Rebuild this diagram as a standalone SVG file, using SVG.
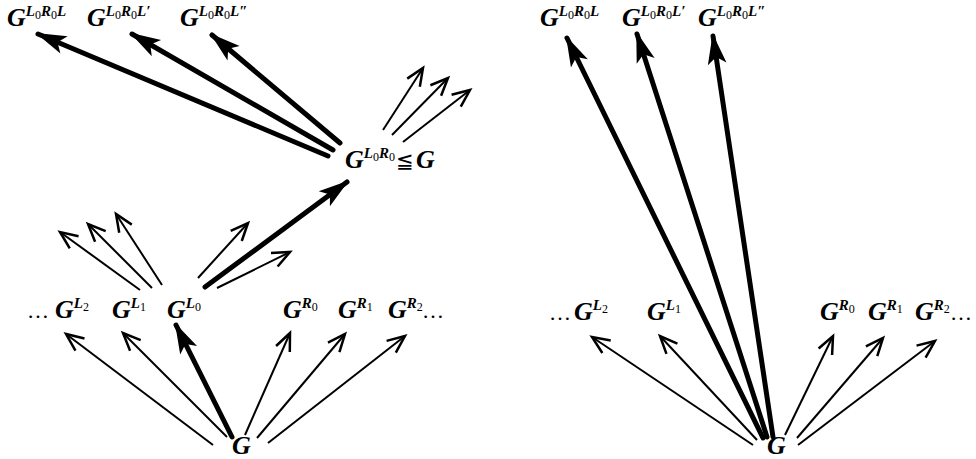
<svg xmlns="http://www.w3.org/2000/svg" width="976" height="459" viewBox="0 0 976 459">
<style>
.g{font-family:"Liberation Serif","DejaVu Serif",serif;font-style:italic;font-weight:bold;font-size:26px;fill:#000}
.sp{font-size:15px}
.sb{font-size:12px;font-style:normal;font-weight:normal}
.dots{font-family:"Liberation Serif",serif;font-size:22px;fill:#000}
.rel{font-style:normal;font-weight:normal;font-family:"DejaVu Serif",serif;font-size:21px}
.t{stroke:#000;stroke-width:2;fill:none;marker-end:url(#open)}
.b{stroke:#000;stroke-width:5;fill:none;stroke-linecap:round;marker-end:url(#bold)}
</style>
<defs>
<marker id="open" markerUnits="userSpaceOnUse" markerWidth="30" markerHeight="30" viewBox="-20 -10 24 20" refX="0" refY="0" orient="auto" overflow="visible">
<path d="M -14 -6 L 0 0 L -14 6" stroke="#000" stroke-width="2" fill="none" stroke-linejoin="miter"/>
</marker>
<marker id="bold" markerUnits="userSpaceOnUse" markerWidth="40" markerHeight="30" viewBox="-30 -12 34 24" refX="0" refY="0" orient="auto" overflow="visible">
<path d="M 2 0 L -24 -8 L -18 0 L -24 8 Z" fill="#000"/>
</marker>
</defs>

<g id="connectors">
<line class="t" x1="213" y1="445" x2="66" y2="334"/>
<line class="t" x1="227" y1="437" x2="123" y2="333"/>
<line class="b" x1="232" y1="437" x2="176" y2="325"/>
<line class="t" x1="245" y1="435" x2="290" y2="333"/>
<line class="t" x1="257" y1="438" x2="345" y2="334"/>
<line class="t" x1="268" y1="443" x2="405" y2="336"/>
<line class="t" x1="140" y1="290" x2="60" y2="232"/>
<line class="t" x1="152" y1="288" x2="88" y2="224"/>
<line class="t" x1="162" y1="285" x2="116" y2="214"/>
<line class="t" x1="198" y1="278" x2="248" y2="223"/>
<line class="b" x1="205" y1="287" x2="347" y2="182"/>
<line class="t" x1="217" y1="288" x2="290" y2="252"/>
<line class="b" x1="328" y1="156" x2="38" y2="34"/>
<line class="b" x1="333" y1="150" x2="132" y2="34"/>
<line class="b" x1="340" y1="143" x2="212" y2="35"/>
<line class="t" x1="383" y1="130" x2="423" y2="68"/>
<line class="t" x1="392" y1="135" x2="448" y2="78"/>
<line class="t" x1="403" y1="142" x2="470" y2="90"/>
<line class="t" x1="753" y1="445" x2="592" y2="337"/>
<line class="t" x1="757" y1="440" x2="660" y2="336"/>
<line class="b" x1="763" y1="438" x2="567" y2="38"/>
<line class="b" x1="767" y1="437" x2="637" y2="34"/>
<line class="b" x1="773" y1="437" x2="713" y2="36"/>
<line class="t" x1="785" y1="435" x2="833" y2="336"/>
<line class="t" x1="797" y1="438" x2="883" y2="338"/>
<line class="t" x1="798" y1="445" x2="935" y2="341"/>
</g>

<g id="lG"><text class="g" x="232" y="454">G</text></g>
<g id="lL2"><text class="dots" x="27" y="318">…</text><text class="g" x="55" y="318">G<tspan class="sp" dy="-10">L</tspan><tspan class="sb" dy="3">2</tspan></text></g>
<g id="lL1"><text class="g" x="112" y="318">G<tspan class="sp" dy="-10">L</tspan><tspan class="sb" dy="3">1</tspan></text></g>
<g id="lL0"><text class="g" x="167" y="318">G<tspan class="sp" dy="-10">L</tspan><tspan class="sb" dy="3">0</tspan></text></g>
<g id="lR0"><text class="g" x="283" y="318">G<tspan class="sp" dy="-10">R</tspan><tspan class="sb" dy="3">0</tspan></text></g>
<g id="lR1"><text class="g" x="338" y="318">G<tspan class="sp" dy="-10">R</tspan><tspan class="sb" dy="3">1</tspan></text></g>
<g id="lR2"><text class="g" x="388" y="318">G<tspan class="sp" dy="-10">R</tspan><tspan class="sb" dy="3">2</tspan></text><text class="dots" x="422" y="318">…</text></g>
<g id="lL0R0"><text class="g" x="345" y="168">G<tspan class="sp" dy="-10">L</tspan><tspan class="sb" dy="3">0</tspan><tspan class="sp" dy="-3">R</tspan><tspan class="sb" dy="3">0</tspan><tspan class="rel" dy="7" dx="1">≦</tspan><tspan dx="2">G</tspan></text></g>
<g id="lL0R0L"><text class="g" x="7" y="26">G<tspan class="sp" dy="-10">L</tspan><tspan class="sb" dy="3">0</tspan><tspan class="sp" dy="-3">R</tspan><tspan class="sb" dy="3">0</tspan><tspan class="sp" dy="-3">L</tspan></text></g>
<g id="lL0R0L1"><text class="g" x="87" y="26">G<tspan class="sp" dy="-10">L</tspan><tspan class="sb" dy="3">0</tspan><tspan class="sp" dy="-3">R</tspan><tspan class="sb" dy="3">0</tspan><tspan class="sp" dy="-3">L′</tspan></text></g>
<g id="lL0R0L2"><text class="g" x="180" y="26">G<tspan class="sp" dy="-10">L</tspan><tspan class="sb" dy="3">0</tspan><tspan class="sp" dy="-3">R</tspan><tspan class="sb" dy="3">0</tspan><tspan class="sp" dy="-3">L″</tspan></text></g>

<g id="rG"><text class="g" x="767" y="454">G</text></g>
<g id="rL2"><text class="dots" x="549" y="320">…</text><text class="g" x="574" y="320">G<tspan class="sp" dy="-10">L</tspan><tspan class="sb" dy="3">2</tspan></text></g>
<g id="rL1"><text class="g" x="647" y="320">G<tspan class="sp" dy="-10">L</tspan><tspan class="sb" dy="3">1</tspan></text></g>
<g id="rR0"><text class="g" x="820" y="320">G<tspan class="sp" dy="-10">R</tspan><tspan class="sb" dy="3">0</tspan></text></g>
<g id="rR1"><text class="g" x="868" y="320">G<tspan class="sp" dy="-10">R</tspan><tspan class="sb" dy="3">1</tspan></text></g>
<g id="rR2"><text class="g" x="915" y="320">G<tspan class="sp" dy="-10">R</tspan><tspan class="sb" dy="3">2</tspan></text><text class="dots" x="950" y="320">…</text></g>
<g id="rL0R0L"><text class="g" x="540" y="26">G<tspan class="sp" dy="-10">L</tspan><tspan class="sb" dy="3">0</tspan><tspan class="sp" dy="-3">R</tspan><tspan class="sb" dy="3">0</tspan><tspan class="sp" dy="-3">L</tspan></text></g>
<g id="rL0R0L1"><text class="g" x="622" y="26">G<tspan class="sp" dy="-10">L</tspan><tspan class="sb" dy="3">0</tspan><tspan class="sp" dy="-3">R</tspan><tspan class="sb" dy="3">0</tspan><tspan class="sp" dy="-3">L′</tspan></text></g>
<g id="rL0R0L2"><text class="g" x="698" y="26">G<tspan class="sp" dy="-10">L</tspan><tspan class="sb" dy="3">0</tspan><tspan class="sp" dy="-3">R</tspan><tspan class="sb" dy="3">0</tspan><tspan class="sp" dy="-3">L″</tspan></text></g>
</svg>
